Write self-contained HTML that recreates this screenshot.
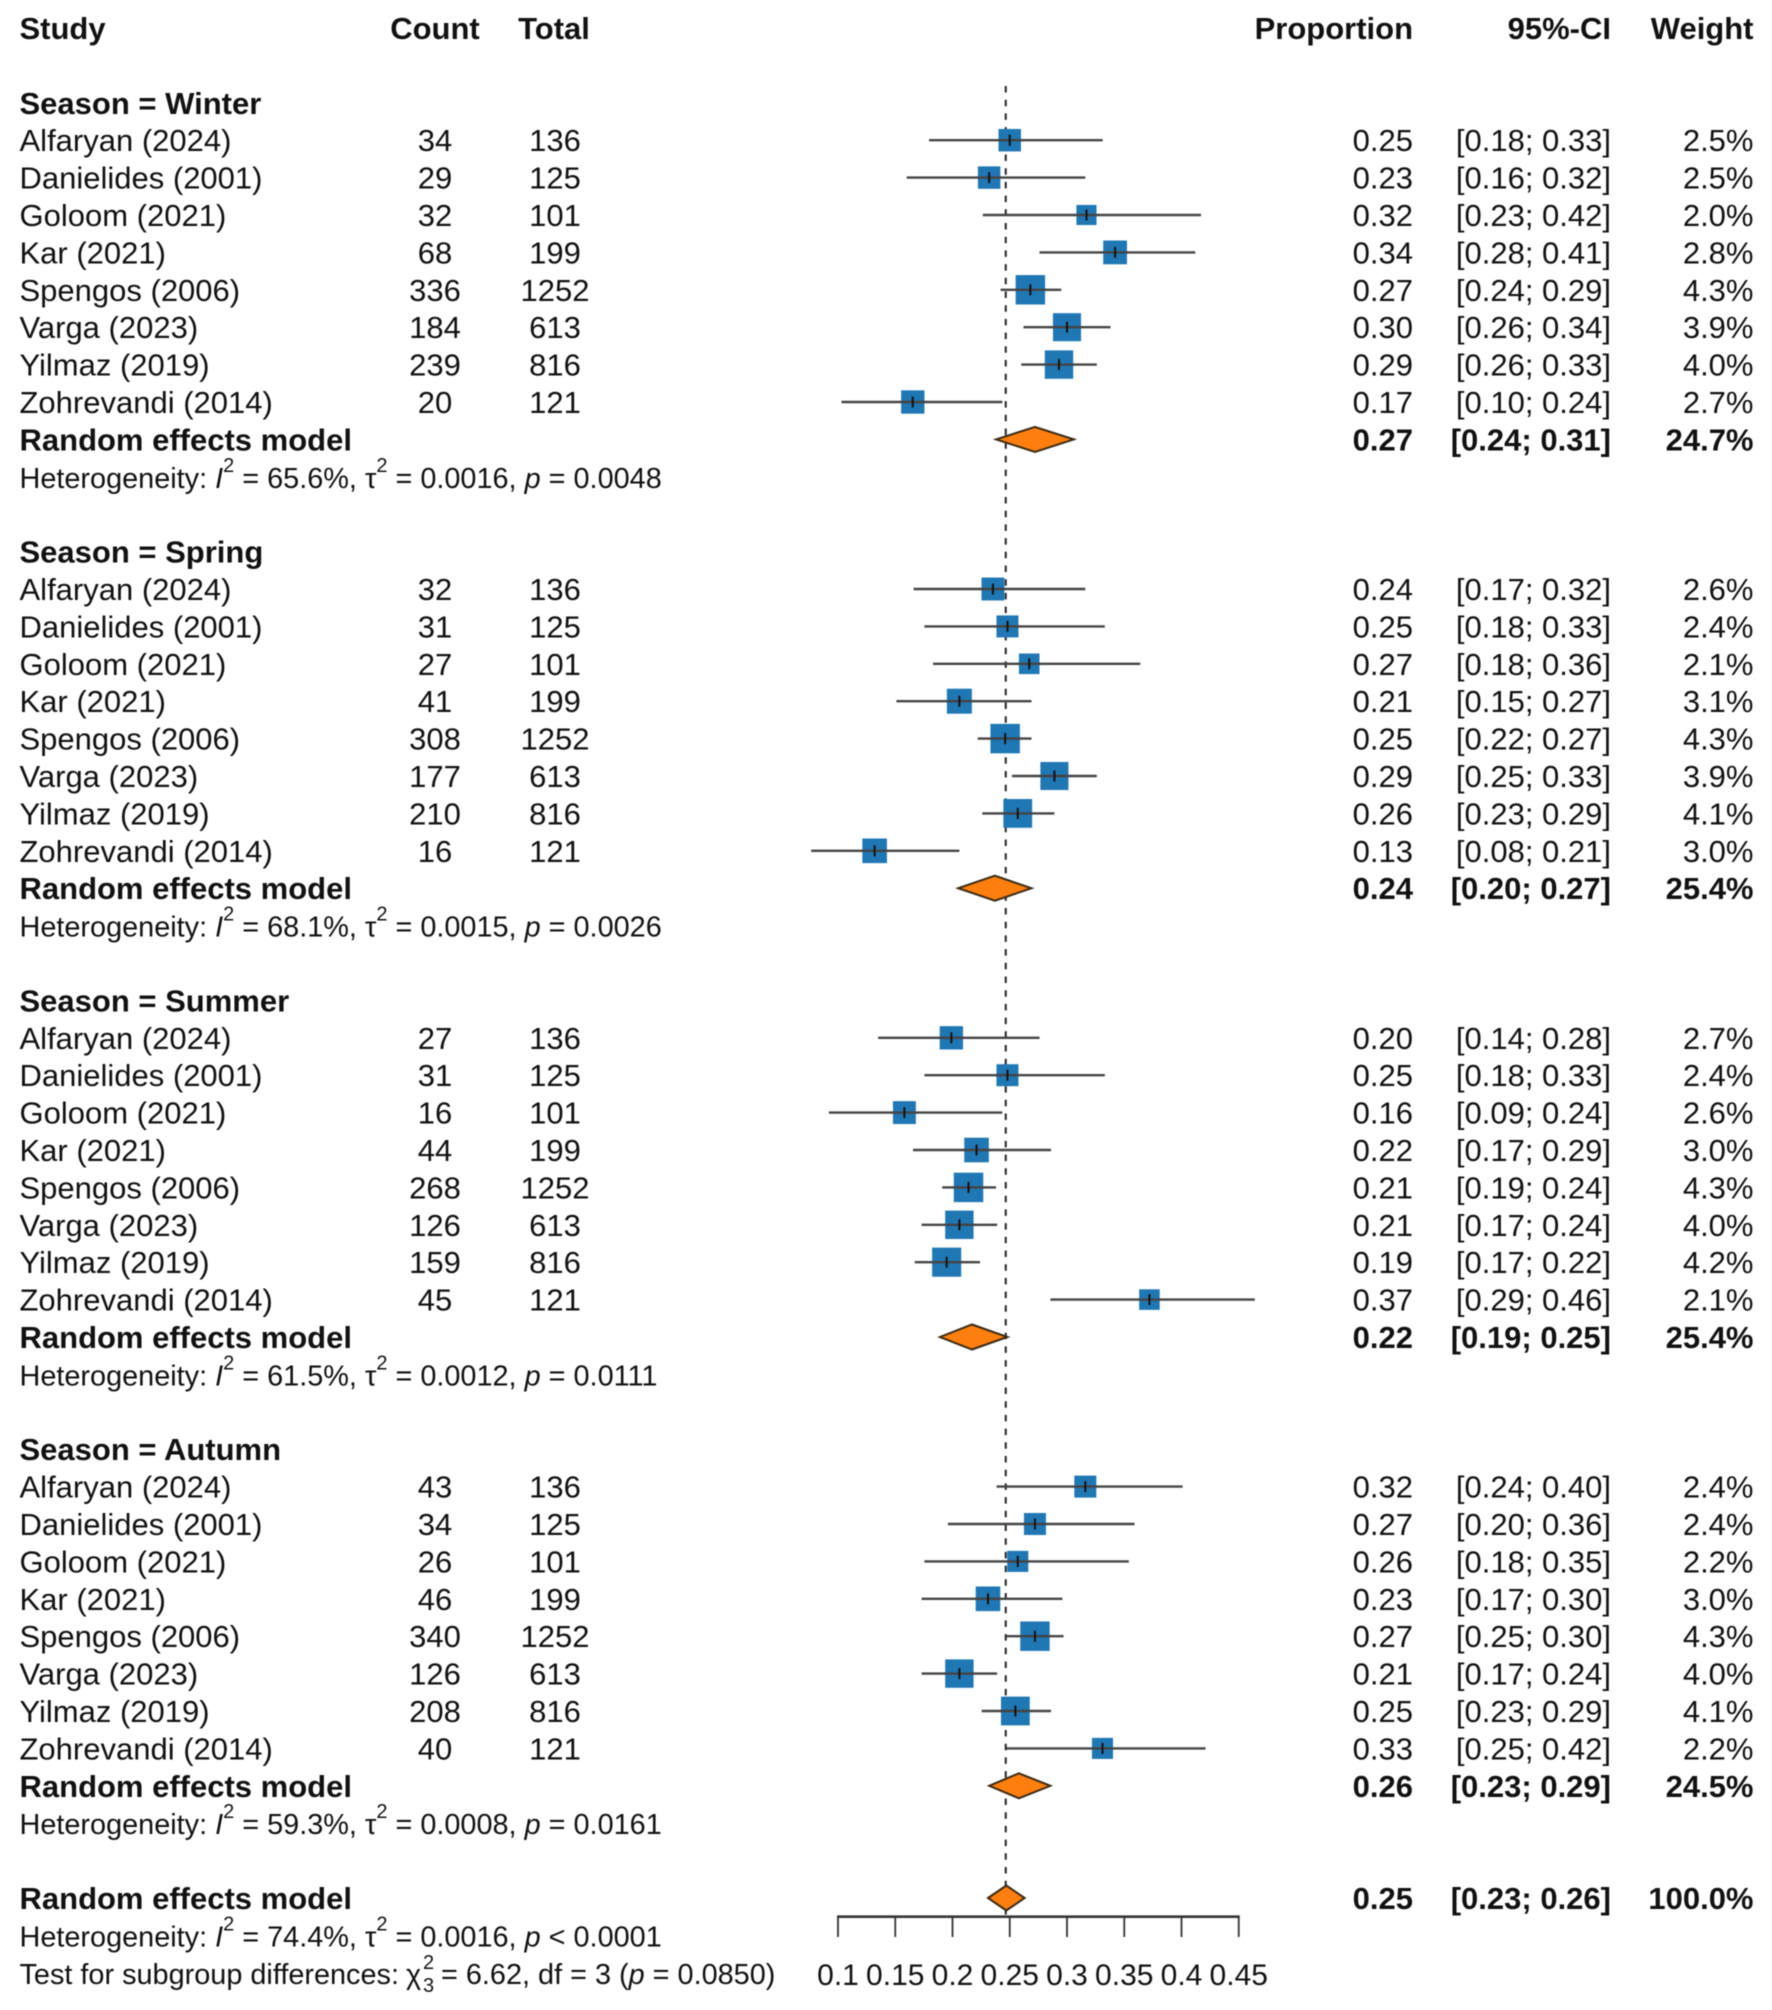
<!DOCTYPE html>
<html lang="en">
<head>
<meta charset="utf-8">
<title>Forest plot of seasonal proportions</title>
<style>
html,body{margin:0;padding:0;background:#fff;}
svg{display:block;filter:blur(0.5px);}
text{font-family:"Liberation Sans",Arial,sans-serif;font-size:31px;fill:#111;white-space:pre;}
</style>
</head>
<body>
<svg id="chart" xmlns="http://www.w3.org/2000/svg" width="1772" height="2010" viewBox="0 0 1772 2010"></svg>
<script>
const studyNames = ["Alfaryan (2024)","Danielides (2001)","Goloom (2021)","Kar (2021)","Spengos (2006)","Varga (2023)","Yilmaz (2019)","Zohrevandi (2014)"];
const seasonNames = ["Winter","Spring","Summer","Autumn"];
const tickValues = [0.1,0.15,0.2,0.25,0.3,0.35,0.4,0.45];
const tickLabels = ["0.1","0.15","0.2","0.25","0.3","0.35","0.4","0.45"];
const referenceValue = 0.2465;

const totals = [136,125,101,199,1252,613,816,121];

const winterCounts = [34,29,32,68,336,184,239,20];
const winterProps  = [0.25,0.232,0.317,0.342,0.268,0.300,0.293,0.1653];
const winterLower  = [0.1795,0.160,0.2265,0.276,0.242,0.262,0.260,0.103];
const winterUpper  = [0.3312,0.316,0.417,0.412,0.295,0.338,0.326,0.2435];
const winterWeight = [2.5,2.5,2.0,2.8,4.3,3.9,4.0,2.7];

const springCounts = [32,31,27,41,308,177,210,16];
const springProps  = [0.2353,0.248,0.267,0.206,0.246,0.289,0.257,0.132];
const springLower  = [0.166,0.1755,0.183,0.151,0.222,0.252,0.226,0.0765];
const springUpper  = [0.316,0.333,0.364,0.269,0.269,0.326,0.289,0.206];
const springWeight = [2.6,2.4,2.1,3.1,4.3,3.9,4.1,3.0];

const summerCounts = [27,31,16,44,268,126,159,45];
const summerProps  = [0.199,0.248,0.158,0.221,0.214,0.206,0.1949,0.372];
const summerLower  = [0.135,0.1755,0.092,0.1655,0.191,0.173,0.167,0.2855];
const summerUpper  = [0.276,0.333,0.2435,0.286,0.238,0.239,0.224,0.464];
const summerWeight = [2.7,2.4,2.6,3.0,4.3,4.0,4.2,2.1];

const autumnCounts = [43,34,26,46,340,126,208,40];
const autumnProps  = [0.316,0.272,0.257,0.231,0.272,0.206,0.2549,0.331];
const autumnLower  = [0.2385,0.196,0.1755,0.173,0.247,0.173,0.2255,0.247];
const autumnUpper  = [0.401,0.359,0.354,0.296,0.297,0.239,0.286,0.421];
const autumnWeight = [2.4,2.4,2.2,3.0,4.3,4.0,4.1,2.2];

const pooledProps  = [0.272,0.237,0.217,0.258];
const pooledLower  = [0.238,0.205,0.189,0.232];
const pooledUpper  = [0.306,0.269,0.248,0.2855];
const pooledWeight = [24.7,25.4,25.4,24.5];

const overallProp = 0.247;
const overallLower = 0.231;
const overallUpper = 0.263;
const overallWeight = 100.0;

const hetI2  = ["65.6%","68.1%","61.5%","59.3%"];
const hetTau = ["0.0016","0.0015","0.0012","0.0008"];
const hetP   = ["= 0.0048","= 0.0026","= 0.0111","= 0.0161"];

const NS = "http://www.w3.org/2000/svg";
const svg = document.getElementById("chart");
const xScale = v => 838 + (v - 0.1) * 1145;
const rowY = k => 28 + k * 37.4;
const base = k => rowY(k) + 11;
const LEFT = 19.5, COL_PROP = 1413, COL_CI = 1611, COL_WEIGHT = 1753.5;
const SMALL_TEXT = "28.85px";

function make(tag, attrs, name, parent) {
  const el = document.createElementNS(NS, tag);
  for (const key in attrs) el.setAttribute(key, attrs[key]);
  
  
  (parent || svg).appendChild(el);
  return el;
}
function txt(str, x, y, anchor, bold, name, parent) {
  const el = make("text", {x: x, y: y, "text-anchor": anchor, "font-weight": bold ? "bold" : "normal"}, name, parent);
  el.textContent = str;
  return el;
}
function span(parent, str, opts) {
  const s = document.createElementNS(NS, "tspan");
  if (opts) for (const key in opts) s.setAttribute(key, opts[key]);
  s.textContent = str;
  parent.appendChild(s);
}
function ciText(lo, hi) { return "[" + lo.toFixed(2) + "; " + hi.toFixed(2) + "]"; }

/* reference line drawn first so marks sit on top */
make("line", {x1: xScale(referenceValue), x2: xScale(referenceValue), y1: 86, y2: 1916, stroke: "#222", "stroke-width": 2, "stroke-dasharray": "6.5 7.2"}, "reference-line");

/* header */
txt("Study", LEFT, base(0), "start", true, "study-header");
txt("Count", 435, base(0), "middle", true, "count-header");
txt("Total", 554, base(0), "middle", true, "total-header");
txt("Proportion", COL_PROP, base(0), "end", true, "proportion-header");
txt("95%-CI", COL_CI, base(0), "end", true, "ci-header");
txt("Weight", COL_WEIGHT, base(0), "end", true, "weight-header");

function heterogeneity(k, i2, tau, p, name) {
  const t = make("text", {x: LEFT, y: base(k)}, name);
  t.style.fontSize = SMALL_TEXT;
  span(t, "Heterogeneity: ");
  span(t, "I", {"font-style": "italic"});
  span(t, "2", {"font-size": 20, dy: -16});
  span(t, " = " + i2 + ", \u03C4", {dy: 16});
  span(t, "2", {"font-size": 20, dy: -16});
  span(t, " = " + tau + ", ", {dy: 16});
  span(t, "p", {"font-style": "italic"});
  span(t, " " + p);
}
function diamond(k, mid, lo, hi, name) {
  const y = rowY(k);
  const pts = [[xScale(lo), y],[xScale(mid), y - 12.5],[xScale(hi), y],[xScale(mid), y + 12.5]];
  make("polygon", {points: pts.map(p => p.join(",")).join(" "), fill: "#ff7f0e", stroke: "#3a2a14", "stroke-width": 2}, name);
}
function summaryRow(k, mid, lo, hi, w, name) {
  txt("Random effects model", LEFT, base(k), "start", true, name + "-label");
  diamond(k, mid, lo, hi, name + "-diamond");
  txt(mid.toFixed(2), COL_PROP, base(k), "end", true, name + "-proportion");
  txt(ciText(lo, hi), COL_CI, base(k), "end", true, name + "-ci");
  txt(w.toFixed(1) + "%", COL_WEIGHT, base(k), "end", true, name + "-weight");
}
function drawSeason(s, start, counts, props, lower, upper, weight) {
  const key = seasonNames[s].toLowerCase();
  txt("Season = " + seasonNames[s], LEFT, base(start), "start", true, key + "-heading");
  for (let i = 0; i < studyNames.length; i++) {
    const k = start + 1 + i;
    const y = rowY(k);
    const g = make("g", {}, key + "-study-row");
    txt(studyNames[i], LEFT, base(k), "start", false, "study-name", g);
    txt(String(counts[i]), 435, base(k), "middle", false, "count-value", g);
    txt(String(totals[i]), 555, base(k), "middle", false, "total-value", g);
    const side = 14.2 * Math.sqrt(weight[i]);
    const cx = xScale(props[i]);
    make("rect", {x: cx - side / 2, y: y - side / 2, width: side, height: side, fill: "#1f77b4"}, "weight-square", g);
    make("line", {x1: xScale(lower[i]), x2: xScale(upper[i]), y1: y, y2: y, stroke: "#444", "stroke-width": 2.4}, "ci-line", g);
    make("line", {x1: cx, x2: cx, y1: y - 5.5, y2: y + 5.5, stroke: "#111", "stroke-width": 2}, "point-estimate-tick", g);
    txt(props[i].toFixed(2), COL_PROP, base(k), "end", false, "proportion-value", g);
    txt(ciText(lower[i], upper[i]), COL_CI, base(k), "end", false, "ci-value", g);
    txt(weight[i].toFixed(1) + "%", COL_WEIGHT, base(k), "end", false, "weight-value", g);
  }
  summaryRow(start + 9, pooledProps[s], pooledLower[s], pooledUpper[s], pooledWeight[s], key + "-random-effects");
  heterogeneity(start + 10, hetI2[s], hetTau[s], hetP[s], key + "-heterogeneity");
}
drawSeason(0, 2, winterCounts, winterProps, winterLower, winterUpper, winterWeight);
drawSeason(1, 14, springCounts, springProps, springLower, springUpper, springWeight);
drawSeason(2, 26, summerCounts, summerProps, summerLower, summerUpper, summerWeight);
drawSeason(3, 38, autumnCounts, autumnProps, autumnLower, autumnUpper, autumnWeight);

/* overall */
summaryRow(50, overallProp, overallLower, overallUpper, overallWeight, "overall-random-effects");
heterogeneity(51, "74.4%", "0.0016", "< 0.0001", "overall-heterogeneity");

/* subgroup test */
const testLabel = txt("Test for subgroup differences: ", LEFT, base(52), "start", false, "subgroup-test-label");
testLabel.style.fontSize = SMALL_TEXT;
const testChi = txt("\u03C7", 406, base(52), "start", false, "subgroup-test-chi");
testChi.style.fontSize = SMALL_TEXT;
const chiSup = txt("2", 423, 1969, "start", false, "subgroup-test-chi-superscript");
chiSup.style.fontSize = "20px";
const chiSub = txt("3", 423, 1992, "start", false, "subgroup-test-chi-subscript");
chiSub.style.fontSize = "20px";
const testRest = make("text", {x: 433, y: base(52)}, "subgroup-test-result");
testRest.style.fontSize = SMALL_TEXT;
span(testRest, " = 6.62, df = 3 (");
span(testRest, "p", {"font-style": "italic"});
span(testRest, " = 0.0850)");

/* axis */
const axisY = 1916.7;
make("line", {x1: xScale(tickValues[0]) - 1, x2: xScale(tickValues[tickValues.length - 1]) + 1, y1: axisY, y2: axisY, stroke: "#333", "stroke-width": 2.6}, "x-axis-line");
tickValues.forEach((v, i) => {
  make("line", {x1: xScale(v), x2: xScale(v), y1: axisY, y2: 1937, stroke: "#333", "stroke-width": 1.8}, "x-axis-tick");
  const label = txt(tickLabels[i], xScale(v), 1985, "middle", false, "x-axis-tick-label");
  label.style.fontSize = "30px";
});
</script>
</body>
</html>
